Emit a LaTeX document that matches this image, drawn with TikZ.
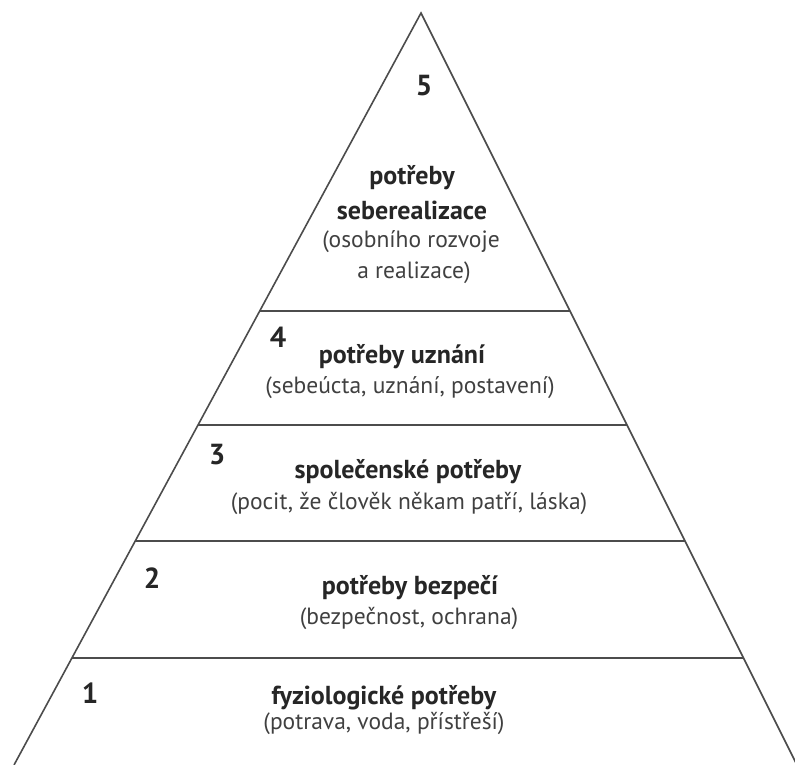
\documentclass[tikz,border=0pt]{standalone}
\usepackage{fontspec}
\setmainfont{PT Sans}
\usetikzlibrary{calc,positioning}

\begin{document}
\begin{tikzpicture}[x=1pt, y=-1pt,
	side/.style={draw=black!70, line width=1.6pt},
	num/.style={font=\fontsize{29}{30}\selectfont\bfseries, text=black!85},
	title/.style={font=\fontsize{26}{28}\selectfont\bfseries, text=black!85, inner sep=0pt},
	desc/.style={font=\fontsize{23.5}{26}\selectfont, text=black!75, inner sep=0pt}]
	\useasboundingbox (0,0) rectangle (795,765);
	
	%pyramid
	\coordinate (apex) at (421,13);
	\coordinate (bl) at (14,765);
	\coordinate (br) at (797,765);
	\draw[side] (bl)--(apex)--(br);
	
	%levels
	\foreach \t/\n in {0.396/45, 0.548/34, 0.702/23, 0.858/12}{
		\coordinate (l\n) at ($(apex)!\t!(bl)$);
		\coordinate (r\n) at ($(apex)!\t!(br)$);
		\draw[side] (l\n)--(r\n);
	}
	
	%level 5
	\node[num] (n5) at (424,86) {5};
	\node[title] (t5a) at (412,178) {potřeby};
	\node[title] (t5b) at (412,210) {seberealizace};
	\node[desc] (d5a) at (411,242) {(osobního rozvoje};
	\node[desc] (d5b) at (414,273) {a realizace)};
	
	%level 4
	\node[num] (n4) at (278,337) {4};
	\node[title] (t4) at (402,357) {potřeby uznání};
	\node[desc] (d4) at (410,388) {(sebeúcta, uznání, postavení)};
	
	%level 3
	\node[num] (n3) at (217,455) {3};
	\node[title] (t3) at (408,472) {společenské potřeby};
	\node[desc] (d3) at (409,503) {(pocit, že člověk někam patří, láska)};
	
	%level 2
	\node[num] (n2) at (152,578) {2};
	\node[title] (t2) at (410,588) {potřeby bezpečí};
	\node[desc] (d2) at (409,618) {(bezpečnost, ochrana)};
	
	%level 1
	\node[num] (n1) at (90,693) {1};
	\node[title] (t1) at (384,698) {fyziologické potřeby};
	\node[desc] (d1) at (384,723) {(potrava, voda, přístřeší)};
\end{tikzpicture}
\end{document}
